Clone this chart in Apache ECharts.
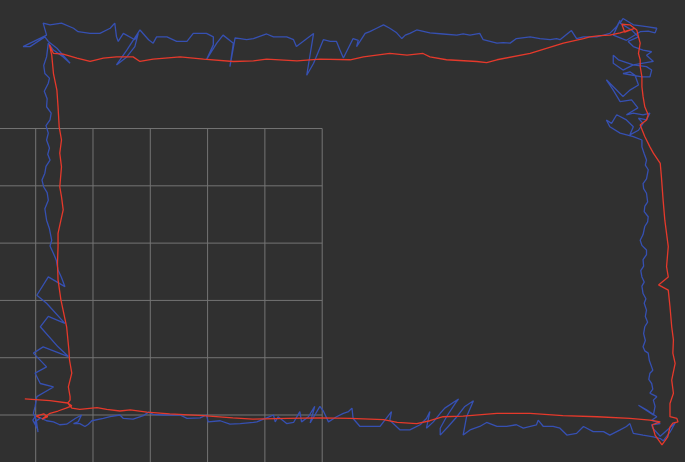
<!DOCTYPE html>
<html>
<head>
<meta charset="utf-8">
<title>Trajectory</title>
<script src="https://cdn.jsdelivr.net/npm/echarts@6/dist/echarts.min.js"></script>
<style>
  html, body { margin: 0; padding: 0; background: #303030; }
  #chart { width: 685px; height: 462px; }
</style>
</head>
<body>
<div id="chart"></div>
<script>
// Ground grid: 1 m cells, lines at these coordinates (metres)
const gridTicks = [-1, 0, 1, 2, 3, 4, 5];

// Visible world window (metres)
const xRange = [-0.623, 11.332];
const yRange = [-0.820, 7.243];

// Raw odometry trajectory [x, y] in metres
const rawPath = [
  [0.01,0.00],[-0.05,-0.09],[0.04,-0.26],[-0.01,-0.12],[0.08,-0.05],[0.19,-0.10],[0.31,-0.12],[0.42,-0.17],
  [0.54,-0.16],[0.69,-0.06],[0.80,0.00],[0.74,-0.12],[0.66,-0.15],[0.77,-0.15],[0.86,-0.20],[0.92,-0.16],
  [0.98,-0.10],[1.18,-0.06],[1.30,-0.03],[1.47,0.00],[1.53,-0.06],[1.70,-0.07],[1.88,-0.01],[1.97,0.05],
  [2.05,0.01],[2.23,0.00],[2.52,0.00],[2.64,-0.06],[2.87,-0.05],[2.98,0.00],[3.01,-0.12],[3.22,-0.10],
  [3.39,-0.16],[3.57,-0.15],[3.80,-0.13],[3.86,-0.12],[4.03,-0.05],[4.15,0.00],[4.18,-0.12],[4.23,-0.03],
  [4.32,-0.10],[4.38,-0.15],[4.50,-0.13],[4.61,0.06],[4.64,-0.12],[4.76,-0.03],[4.87,0.15],[4.79,-0.14],
  [4.96,0.15],[5.02,0.07],[5.11,-0.12],[5.25,-0.03],[5.37,0.03],[5.46,0.06],[5.52,0.12],[5.54,-0.06],
  [5.66,-0.20],[5.78,-0.20],[6.01,-0.20],[6.07,-0.12],[6.21,0.06],[6.18,-0.09],[6.36,-0.26],[6.53,-0.26],
  [6.71,-0.17],[6.82,-0.06],[6.88,0.06],[6.82,-0.23],[6.94,-0.12],[7.06,0.03],[7.14,0.12],[7.38,0.28],
  [7.32,0.20],[7.17,-0.03],[7.06,-0.23],[7.06,-0.35],[7.20,-0.20],[7.35,-0.03],[7.49,0.15],[7.64,0.25],
  [7.52,-0.03],[7.46,-0.35],[7.58,-0.26],[7.75,-0.20],[7.87,-0.13],[8.05,-0.20],[8.22,-0.20],[8.39,-0.17],
  [8.51,-0.23],[8.74,-0.17],[8.77,-0.09],[8.86,-0.20],[9.03,-0.20],[9.15,-0.23],[9.27,-0.35],[9.44,-0.32],
  [9.56,-0.20],[9.73,-0.29],[9.91,-0.29],[10.02,-0.35],[10.20,-0.26],[10.31,-0.20],[10.37,-0.15],[10.43,-0.32],
  [10.60,-0.35],[10.78,-0.38],[10.90,-0.41],[10.95,-0.45],[11.07,-0.30],[11.16,-0.14],[10.90,-0.37],[10.77,-0.23],
  [10.75,-0.17],[10.90,-0.15],[10.75,-0.09],[10.84,-0.03],[10.66,0.09],[10.52,0.17],[10.78,0.00],[10.81,0.15],
  [10.78,0.26],[10.84,0.32],[10.76,0.36],[10.72,0.38],[10.77,0.45],[10.75,0.55],[10.70,0.62],[10.72,0.73],
  [10.77,0.78],[10.75,0.84],[10.71,0.95],[10.69,1.08],[10.63,1.12],[10.60,1.19],[10.64,1.30],[10.61,1.42],
  [10.63,1.54],[10.68,1.62],[10.64,1.72],[10.66,1.83],[10.62,1.95],[10.65,2.03],[10.60,2.12],[10.58,2.25],
  [10.62,2.32],[10.58,2.41],[10.56,2.52],[10.61,2.60],[10.60,2.71],[10.66,2.80],[10.66,2.88],[10.58,2.96],
  [10.55,3.05],[10.60,3.15],[10.63,3.29],[10.68,3.37],[10.69,3.46],[10.62,3.55],[10.63,3.64],[10.68,3.72],
  [10.66,3.87],[10.61,3.95],[10.60,4.04],[10.66,4.12],[10.69,4.28],[10.64,4.36],[10.66,4.45],[10.62,4.56],
  [10.58,4.68],
  [10.58,4.80],[10.43,4.86],[10.20,4.92],[10.02,5.03],[9.96,5.15],[10.05,5.09],[10.14,5.24],[10.31,5.15],
  [10.43,5.03],[10.37,4.89],[10.52,4.97],[10.60,5.09],[10.52,5.18],[10.66,5.15],[10.72,5.27],[10.60,5.24],
  [10.43,5.27],[10.31,5.24],[10.51,5.36],
  [10.40,5.50],[10.20,5.47],[10.08,5.67],[9.96,5.85],[10.25,5.56],[10.37,5.67],[10.52,5.76],[10.46,5.93],
  [10.37,5.99],[10.25,5.96],[10.58,5.90],[10.72,5.90],[10.75,6.02],
  [10.66,6.08],[10.43,6.11],[10.17,6.20],[10.08,6.28],[10.08,6.14],[10.25,6.02],[10.43,6.11],[10.78,6.17],
  [10.66,6.28],[10.75,6.34],[10.60,6.37],[10.43,6.43],[10.34,6.52],
  [10.52,6.60],[10.40,6.72],[10.20,6.84],[10.25,6.92],[10.43,6.81],[10.66,6.78],[10.84,6.75],[10.81,6.67],
  [10.69,6.70],[10.55,6.69],[10.31,6.54],[10.08,6.63],[10.20,6.89],[10.14,6.78],
  [10.02,6.66],[9.91,6.63],[9.79,6.60],[9.56,6.60],[9.44,6.57],[9.35,6.71],[9.15,6.55],[9.09,6.57],
  [8.98,6.55],[8.80,6.57],[8.63,6.60],[8.39,6.57],[8.28,6.49],[8.16,6.50],[8.05,6.49],[7.93,6.52],
  [7.81,6.55],[7.75,6.66],[7.58,6.63],[7.46,6.65],[7.35,6.63],[7.11,6.65],[6.88,6.67],[6.65,6.72],
  [6.53,6.66],[6.45,6.63],[6.39,6.57],[6.30,6.67],[6.18,6.75],[6.07,6.81],[5.95,6.75],[5.83,6.69],
  [5.75,6.66],[5.60,6.43],[5.63,6.54],[5.54,6.57],[5.37,6.23],[5.31,6.37],[5.25,6.52],[5.14,6.52],
  [5.02,6.55],[4.85,6.14],[4.73,5.93],[4.85,6.66],[4.55,6.43],[4.50,6.55],[4.38,6.60],[4.15,6.60],
  [4.03,6.65],[3.80,6.57],[3.68,6.55],[3.57,6.57],[3.48,6.58],[3.39,6.08],[3.45,6.49],[3.27,6.63],
  [3.16,6.49],[2.98,6.20],[3.10,6.46],[3.10,6.60],[2.98,6.66],[2.75,6.66],[2.64,6.52],[2.46,6.52],
  [2.29,6.60],[2.11,6.60],[2.05,6.49],[1.97,6.55],[1.82,6.72],[1.59,6.37],[1.41,6.11],[1.59,6.25],
  [1.73,6.43],[1.79,6.66],[1.73,6.55],[1.53,6.66],[1.44,6.52],[1.41,6.60],[1.38,6.84],[1.30,6.75],
  [1.12,6.66],[0.95,6.66],[0.74,6.69],[0.66,6.75],[0.45,6.84],[0.25,6.81],[0.13,6.84],[0.19,6.63],
  [-0.22,6.43],[-0.10,6.43],[0.16,6.60],[0.22,6.52],[0.37,6.40],[0.60,6.14],[0.48,6.25],[0.31,6.37],
  [0.22,6.49],
  [0.19,6.25],[0.14,6.10],[0.16,5.96],[0.24,5.88],[0.22,5.79],[0.15,5.65],[0.20,5.52],[0.19,5.38],
  [0.27,5.27],[0.25,5.15],[0.18,5.05],[0.22,4.92],[0.19,4.80],[0.24,4.66],[0.21,4.55],[0.25,4.45],
  [0.18,4.34],[0.16,4.22],[0.11,4.10],[0.14,3.98],[0.20,3.88],[0.22,3.75],[0.16,3.60],[0.19,3.40],
  [0.24,3.25],[0.28,3.05],[0.25,2.95],[0.31,2.82],[0.36,2.70],[0.39,2.53],[0.45,2.40],[0.51,2.24],
  [0.22,2.41],[0.02,2.09],[0.19,1.95],[0.51,1.60],[0.22,1.72],[0.08,1.54],[0.39,1.19],[0.57,1.02],
  [0.13,1.19],[-0.04,1.08],[0.19,0.84],[-0.01,0.73],[0.08,0.55],[0.31,0.49],[0.02,0.32],[-0.01,0.15],
  [-0.04,0.03],[0.01,-0.09],[0.04,-0.30]
];

// Optimised (loop-closed) trajectory [x, y] in metres
const optimizedPath = [
  [0.08,-0.05],[0.01,-0.02],[0.14,0.02],[0.21,-0.03],[0.11,-0.07],[0.25,0.03],[0.39,0.07],[0.53,0.12],
  [0.63,0.16],[0.56,0.21],[0.63,0.12],[0.77,0.10],[1.07,0.13],[1.24,0.10],[1.47,0.07],[1.65,0.09],
  [1.94,0.05],[2.34,0.02],[2.92,-0.01],[3.44,-0.05],[3.79,-0.07],[4.39,-0.06],[4.96,-0.05],[5.49,-0.06],
  [6.07,-0.08],[6.31,-0.13],[6.65,-0.15],[6.88,-0.10],[7.11,-0.03],[7.46,-0.02],[8.05,0.03],[8.63,0.03],
  [9.20,-0.01],[9.80,-0.03],[10.37,-0.06],[10.72,-0.09],[10.90,-0.12],[10.76,-0.17],[10.81,-0.35],[10.93,-0.52],
  [11.03,-0.38],[11.07,-0.21],[11.12,-0.14],[11.21,-0.12],[11.19,-0.06],[11.07,-0.03],
  [11.07,0.20],[11.13,0.38],[11.10,0.61],[11.16,0.90],[11.12,1.08],[11.13,1.31],[11.10,1.54],[11.07,1.89],
  [11.04,2.18],[10.87,2.27],[11.04,2.41],[11.01,2.59],[11.04,2.94],[10.98,3.40],[10.95,3.75],[10.92,4.16],
  [10.90,4.39],[10.78,4.57],[10.72,4.68],[10.63,4.86],[10.55,5.06],[10.66,5.15],[10.69,5.24],[10.63,5.38],
  [10.60,5.56],[10.58,5.73],[10.58,5.90],[10.55,6.08],[10.55,6.20],[10.52,6.31],[10.55,6.49],[10.52,6.60],
  [10.49,6.72],[10.37,6.81],[10.23,6.82],[10.28,6.68],[10.46,6.75],[10.20,6.67],
  [10.02,6.63],[9.85,6.62],[9.67,6.60],[9.56,6.57],[9.21,6.49],[8.63,6.31],[8.05,6.20],[7.87,6.15],
  [7.70,6.17],[7.17,6.20],[6.88,6.25],[6.76,6.31],[6.48,6.28],[6.18,6.31],[5.72,6.25],[5.49,6.20],
  [4.96,6.21],[4.56,6.18],[4.03,6.21],[3.80,6.18],[3.45,6.17],[2.93,6.21],[2.52,6.25],[2.05,6.21],
  [1.82,6.17],[1.70,6.25],[1.41,6.25],[1.18,6.23],[0.95,6.17],[0.72,6.23],[0.48,6.30],[0.31,6.31],
  [0.24,6.46],[0.28,6.28],[0.31,5.96],[0.37,5.67],[0.39,5.38],[0.41,5.03],[0.45,4.80],[0.42,4.57],
  [0.45,4.33],[0.42,3.98],[0.45,3.81],[0.48,3.58],[0.44,3.40],[0.39,3.17],[0.39,2.94],[0.38,2.65],
  [0.39,2.36],[0.44,2.01],[0.54,1.54],[0.58,1.13],[0.59,0.96],[0.63,0.73],[0.57,0.49],[0.60,0.32],
  [0.60,0.26],[0.56,0.21],[0.25,0.25],[-0.19,0.28]
];

const chart = echarts.init(document.getElementById('chart'), null, { renderer: 'canvas' });

// Ground grid built as one line series per grid line
const gridSeries = [];
const gMin = gridTicks[0], gMax = gridTicks[gridTicks.length - 1];
gridTicks.forEach(function (t) {
  gridSeries.push({
    type: 'line', silent: true, symbol: 'none', animation: false,
    lineStyle: { color: '#747474', width: 1 },
    data: [[t, gMin], [t, gMax]]
  });
  gridSeries.push({
    type: 'line', silent: true, symbol: 'none', animation: false,
    lineStyle: { color: '#747474', width: 1 },
    data: [[gMin, t], [gMax, t]]
  });
});

const hiddenAxis = {
  type: 'value',
  axisLine: { show: false }, axisTick: { show: false },
  axisLabel: { show: false }, splitLine: { show: false }
};

chart.setOption({
  backgroundColor: '#303030',
  animation: false,
  grid: { left: 0, right: 0, top: 0, bottom: 0, containLabel: false },
  xAxis: Object.assign({}, hiddenAxis, { min: xRange[0], max: xRange[1] }),
  yAxis: Object.assign({}, hiddenAxis, { min: yRange[0], max: yRange[1] }),
  series: gridSeries.concat([
    {
      name: 'raw', type: 'line', symbol: 'none', silent: true,
      lineStyle: { color: '#3650b2', width: 1.3 },
      data: rawPath
    },
    {
      name: 'optimized', type: 'line', symbol: 'none', silent: true,
      lineStyle: { color: '#e5392b', width: 1.3 },
      data: optimizedPath
    }
  ])
});
</script>
</body>
</html>
